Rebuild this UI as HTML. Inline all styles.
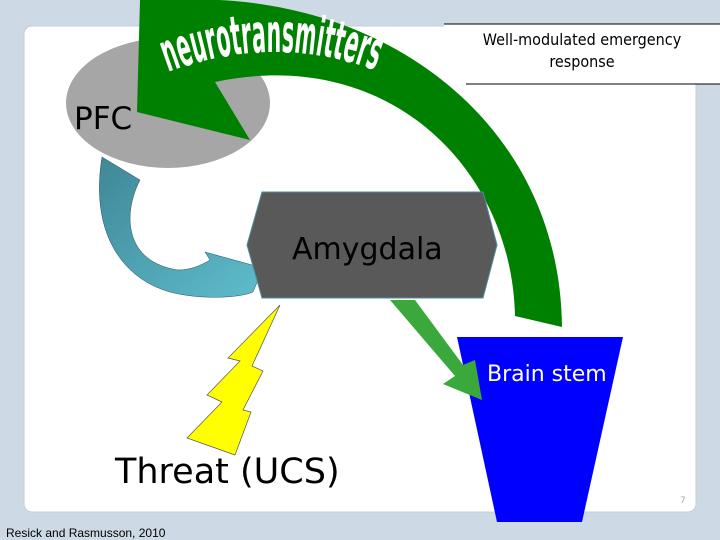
<!DOCTYPE html>
<html><head><meta charset="utf-8"><style>
html,body{margin:0;padding:0}
body{width:720px;height:540px;background:#cdd9e4;position:relative;overflow:hidden;font-family:"DejaVu Sans","Liberation Sans",sans-serif}
</style></head><body>
<svg width="720" height="540" viewBox="0 0 720 540" style="position:absolute;left:0;top:0">
<defs>
<linearGradient id="tg" x1="0" y1="0" x2="1" y2="1">
<stop offset="0" stop-color="#3f8797"/><stop offset="1" stop-color="#5ebdcc"/>
</linearGradient>
<path id="arc" d="M 168,72 Q 275,32 380,72"/>
</defs>
<rect x="24" y="26" width="672" height="486" rx="8" fill="#fff" stroke="#c5ced8"/>
<ellipse cx="168" cy="103" rx="102" ry="65" fill="#a6a6a6"/>
<rect x="444" y="24" width="290" height="60" fill="#fff"/>
<line x1="444" y1="24" x2="720" y2="24" stroke="#000"/>
<line x1="466" y1="84" x2="720" y2="84" stroke="#000"/>
<text x="582" y="45" font-size="16" text-anchor="middle" font-family="DejaVu Sans Condensed, DejaVu Sans, sans-serif">Well-modulated emergency</text>
<text x="582" y="67" font-size="16" text-anchor="middle" font-family="DejaVu Sans Condensed, DejaVu Sans, sans-serif">response</text>
<path d="M137,112 L140,0 L160,0 L175,0 C380,-10 560,120 562,327 L515,316 C512,170 390,45 215,82 L250,140 Z" fill="#008000"/>
<text font-size="54" font-weight="bold" fill="#fff" font-family="DejaVu Sans Condensed, DejaVu Sans, sans-serif"><textPath href="#arc" textLength="212" lengthAdjust="spacingAndGlyphs">neurotransmitters</textPath></text>
<path d="M102,157 L140,180 C122,215 125,262 178,270 C190,270 200,266 210,260 L205,252 L263,268 L253,292 C240,298 200,300 170,292 C120,278 90,230 102,157 Z" fill="url(#tg)" stroke="#2a5060" stroke-width="0.5"/>
<polygon points="262,192 483,192 497,245 483,298 262,298 247,245" fill="#595959" stroke="#4a8ea0" stroke-width="1"/>
<text x="292" y="259" font-size="30">Amygdala</text>
<polygon points="457,337 623,337 582,522 497,522" fill="#0000ff"/>
<polygon points="390,300 415,300 463,365 475,360 482,400 443,384 455,376" fill="#3aa83a"/>
<text x="487" y="381" font-size="22" fill="#fff">Brain stem</text>
<polygon points="280,305 228,358 240,361 207,395 222,402 187,438 235,455 251,412 243,410 263,371 252,366" fill="#ffff00" stroke="#555" stroke-width="0.7"/>
<text x="115" y="483" font-size="35">Threat (UCS)</text>
<text x="74" y="129" font-size="31">PFC</text>
<text x="680" y="503" font-size="9" fill="#aaa">7</text>
<text x="6" y="537" font-size="12" font-family="Liberation Sans, sans-serif">Resick and Rasmusson, 2010</text>
</svg>
</body></html>
